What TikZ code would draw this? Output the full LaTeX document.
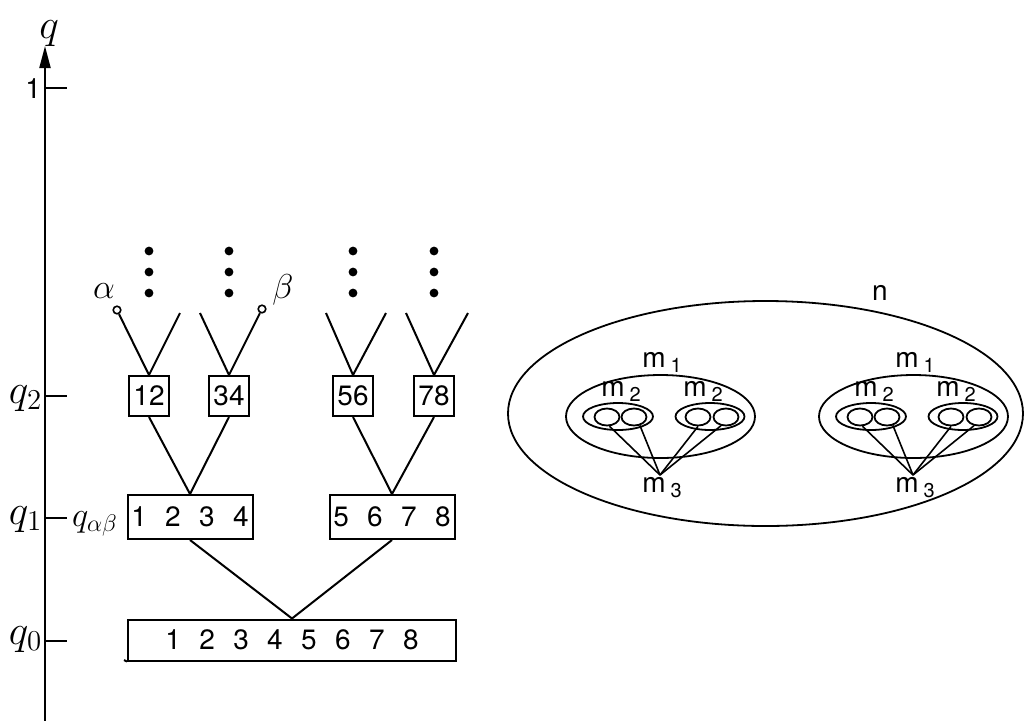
\documentclass[tikz,border=0pt]{standalone}
\usepackage{fontspec}
\setsansfont{TeX Gyre Heros}
\usetikzlibrary{shapes.geometric,arrows.meta}
\newcommand\dgap{\hspace{9.2pt}}
\newcommand\msub[1]{m\kern2.5pt\raisebox{-2.5pt}{\fontsize{10}{11}\selectfont #1}}
\begin{document}
\begin{tikzpicture}[x=0.5pt,y=-0.5pt,line width=1pt,
  digs/.style={font=\sffamily\fontsize{14}{16}\selectfont},
  pairbox/.style={draw,digs,minimum width=20pt,minimum height=20pt,inner sep=0pt},
  quadbox/.style={draw,digs,minimum width=62.5pt,minimum height=22pt,inner sep=0pt},
  fullbox/.style={draw,digs,minimum width=164pt,minimum height=20.5pt,inner sep=0pt},
  qlab/.style={font=\fontsize{20}{22}\selectfont,inner sep=0pt,anchor=base west},
  dotn/.style={circle,fill,inner sep=0pt,minimum size=4.4pt},
  endc/.style={circle,draw,fill=white,inner sep=0pt,minimum size=3.8pt,line width=0.8pt},
  oval/.style={ellipse,draw,inner sep=0pt,line width=0.9pt},
  mlab/.style={font=\sffamily\fontsize{14}{16}\selectfont,inner sep=0pt},
]
\useasboundingbox (0,0) rectangle (1025,720);

% axis
\coordinate (ab) at (45,722);
\coordinate (at) at (45,46);
\draw[-{Triangle[length=11pt,width=5.5pt]}] (ab) -- (at);
\node[font=\fontsize{22}{24}\selectfont,anchor=base,inner sep=0pt] (qtop) at (49,38) {$q$};

\coordinate (t1) at (45,88);  \coordinate (t1e) at (67,88);
\coordinate (t2) at (45,396); \coordinate (t2e) at (67,396);
\coordinate (t3) at (45,518); \coordinate (t3e) at (67,518);
\coordinate (t4) at (45,641); \coordinate (t4e) at (67,641);
\draw (t1) -- (t1e); \draw (t2) -- (t2e); \draw (t3) -- (t3e); \draw (t4) -- (t4e);

\node[digs,anchor=east,inner sep=0pt] (one) at (42,89) {1};
\node[qlab] (q2) at (8,403) {$q_2$};
\node[qlab] (q1) at (8,524) {$q_1$};
\node[qlab] (q0) at (8,644) {$q_0$};
\node[font=\fontsize{18}{20}\selectfont,inner sep=0pt,anchor=base west] (qab) at (71,526) {$q_{\alpha\beta}$};

% boxes
\node[pairbox] (b12) at (149,396) {12};
\node[pairbox] (b34) at (229,396) {34};
\node[pairbox] (b56) at (353,396) {56};
\node[pairbox] (b78) at (434,396) {78};
\node[quadbox] (b1234) at (190,517) {1\dgap2\dgap3\dgap4};
\node[quadbox] (b5678) at (392,517) {5\dgap6\dgap7\dgap8};
\node[fullbox] (b0) at (292,640) {1\dgap2\dgap3\dgap4\dgap5\dgap6\dgap7\dgap8};
\coordinate (b0ext) at (124,660);
\draw (b0.south west) -- (b0ext);

% tree lines
\draw (b12.south) -- (b1234.north); \draw (b34.south) -- (b1234.north);
\draw (b56.south) -- (b5678.north); \draw (b78.south) -- (b5678.north);
\draw (b1234.south) -- (b0.north); \draw (b5678.south) -- (b0.north);

% upper arms
\node[endc] (alph) at (117,310) {};
\coordinate (a12r) at (180,313);
\coordinate (a34l) at (200,313);
\node[endc] (bet) at (262,309) {};
\coordinate (a56l) at (326,313); \coordinate (a56r) at (386,313);
\coordinate (a78l) at (406,313); \coordinate (a78r) at (468,313);
\draw (alph) -- (b12.north); \draw (a12r) -- (b12.north);
\draw (a34l) -- (b34.north); \draw (bet) -- (b34.north);
\draw (a56l) -- (b56.north); \draw (a56r) -- (b56.north);
\draw (a78l) -- (b78.north); \draw (a78r) -- (b78.north);
\node[font=\fontsize{19}{21}\selectfont,inner sep=0pt] (alab) at (104,291) {$\alpha$};
\node[font=\fontsize{19}{21}\selectfont,inner sep=0pt] (blab) at (283,290) {$\beta$};

\foreach \xx in {149,229,353,434}{
  \foreach \yy in {251,272,293}{
    \node[dotn] (d\xx-\yy) at (\xx,\yy) {};
  }
}

% right part
\node[oval,minimum width=257.5pt,minimum height=112.5pt] (nell) at (765.5,413.5) {};
\node[mlab] (nlab) at (880,293) {n};

\foreach \s/\k in {0/a,253/b}{
  \begin{scope}[shift={(\s,0)}]
    \node[oval,minimum width=94.5pt,minimum height=41.5pt] (m1\k) at (660.5,416.5) {};
    \node[oval,minimum width=35pt,minimum height=13.5pt] (m2l\k) at (618,416.5) {};
    \node[oval,minimum width=34.5pt,minimum height=13.5pt] (m2r\k) at (710,416.5) {};
    \node[oval,minimum width=12.5pt,minimum height=8.5pt] (c1\k) at (607,417) {};
    \node[oval,minimum width=12.5pt,minimum height=8.5pt] (c2\k) at (634,417) {};
    \node[oval,minimum width=12.5pt,minimum height=8.5pt] (c3\k) at (698,417) {};
    \node[oval,minimum width=12.5pt,minimum height=8.5pt] (c4\k) at (726,417) {};
    \coordinate (apx\k) at (660,475);
    \draw[line width=0.8pt] (c1\k.-75) -- (apx\k);
    \draw[line width=0.8pt] (c2\k.-55) -- (apx\k);
    \draw[line width=0.8pt] (c3\k.-90) -- (apx\k);
    \draw[line width=0.8pt] (c4\k.-120) -- (apx\k);
    \node[mlab] (lm1\k) at (662,362) {\msub{1}};
    \node[mlab] (lm2l\k) at (621,391) {\msub{2}};
    \node[mlab] (lm2r\k) at (703,391) {\msub{2}};
    \node[mlab] (lm3\k) at (662,488) {\msub{3}};
  \end{scope}
}
\end{tikzpicture}
\end{document}
